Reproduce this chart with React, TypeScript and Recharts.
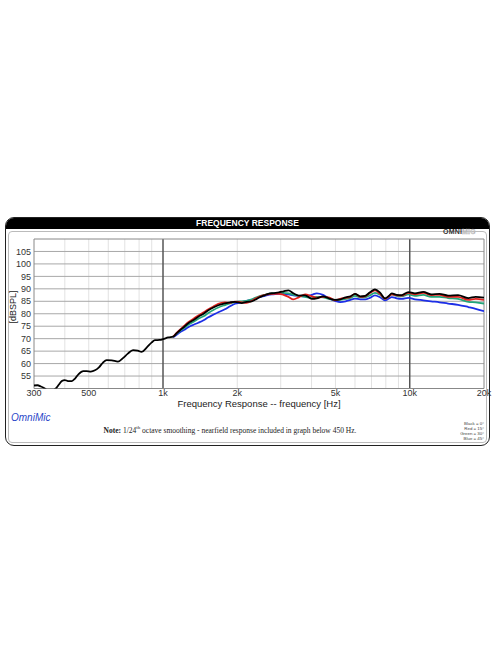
import React from 'react';
import { LineChart, Line, XAxis, YAxis, ReferenceLine } from 'recharts';

// frequency points (Hz) shared by all four traces
const freqs = [
  300, 310, 320, 332, 345, 358, 368, 378, 389, 400, 412, 427, 440, 455, 475, 490, 510, 530, 550, 570,
  591, 620, 657, 690, 720, 756, 790, 819, 860, 900, 928, 970, 1000, 1050, 1100,
  1136, 1172, 1220, 1266, 1330, 1390, 1460, 1527, 1600, 1675, 1782, 1870, 1958, 2085, 2180,
  2289, 2361, 2450, 2591, 2674, 2800, 2950, 3080, 3222, 3375, 3550, 3765, 4010, 4200, 4450,
  4700, 4980, 5230, 5500, 5750, 6000, 6300, 6600, 6900, 7230, 7580, 7940, 8200, 8460, 8850,
  9280, 9870, 10500, 11350, 12200, 13200, 14300, 15700, 17280, 18500, 20000,
];

// low end: only the black (0 deg) trace, includes nearfield
const blackLow = [
  51.2, 51.3, 50.8, 50, 48.8, 49.2, 50, 51.5, 53, 53.4, 53, 53, 54, 55.8, 57, 57, 56.8, 57.3, 58.5, 60.3,
  61.4, 61.3, 60.8, 62.3, 64, 65.4, 65.2, 64.7, 66.5, 68.5, 69.4, 69.5, 69.8, 70.5,
];

// from 1100 Hz up
const black = [
  70.8, 72.2, 73.4, 74.8, 76.2, 77.5, 78.8, 80, 81.4, 82.5, 83.4, 84.2, 84.6, 84.8, 84.3, 84.8,
  85, 85.6, 86.5, 87.5, 88, 88.3, 88.6, 89, 89.4, 88.2, 87.3, 87.4, 86, 86.2, 87,
  86.2, 85.6, 85.8, 86.6, 87, 88, 87, 87.2, 88.6, 89.8, 88.5, 86.2, 87, 88.2, 87.6,
  87.5, 88.7, 88.2, 88.8, 87.8, 88, 87.3, 87.5, 86.3, 86.8, 86.5,
];
const red = [
  70.8, 72.3, 73.6, 75.2, 76.6, 78, 79.3, 80.6, 81.8, 82.9, 84, 84.6, 84.4, 84.9, 84.6, 84.4,
  85.2, 86, 86.8, 87.6, 87.8, 88, 88, 87.6, 86.8, 85.8, 86.6, 87.8, 87, 86.4, 86.8,
  86.6, 85.4, 86, 86.4, 86.8, 88, 86.8, 87, 88.3, 89.4, 88, 86, 86.8, 87.8, 87.4,
  87.3, 88.4, 87.8, 88.4, 87.5, 87.6, 86.8, 86.8, 85.6, 86, 85.6,
];
const green = [
  70.8, 72, 73.2, 74.4, 75.6, 76.8, 78, 79, 80.3, 81.5, 82.5, 83.5, 84.2, 84.7, 85, 85.2,
  85.8, 86.4, 87, 87.6, 88, 88.2, 88.4, 88.4, 88.2, 87.6, 87.2, 86.8, 86.3, 86.8, 86.6,
  86, 85.6, 85.6, 86, 86.4, 87.2, 86.6, 86.6, 87.4, 88.4, 87.6, 86, 86.8, 87.8, 87.2,
  87, 87.8, 87.2, 87.6, 86.8, 86.8, 86.3, 86, 84.8, 84.6, 84.1,
];
const blue = [
  70.6, 71.6, 72.6, 73.6, 74.6, 75.6, 76.4, 77.4, 78.6, 79.6, 80.6, 81.8, 83, 84, 84.6, 85.2,
  85.6, 86, 86.6, 87.2, 87.6, 87.8, 88, 88, 87.8, 87.4, 87.2, 87, 87.6, 88.2, 87.6,
  86.2, 85.2, 84.7, 85, 85.6, 86.1, 85.8, 85.8, 86.4, 87.4, 86.6, 85.4, 86, 86.7, 86.2,
  86, 86.4, 85.8, 85.4, 85, 84.6, 84.1, 83.6, 82.7, 82, 81,
];

const xTicks = [300, 500, 1000, 2000, 5000, 10000, 20000];
const yTicks = [55, 60, 65, 70, 75, 80, 85, 90, 95, 100, 105];
const minorFreqs = [400, 500, 600, 700, 800, 900, 2000, 3000, 4000, 5000, 6000, 7000, 8000, 9000];
const majorFreqs = [1000, 10000];
const legendLines = ['Black = 0°', 'Red = 15°', 'Green = 30°', 'Blue = 45°'];

const nLow = blackLow.length;
const data = freqs.map((f, i) => ({
  f,
  black: i < nLow ? blackLow[i] : black[i - nLow],
  red: i < nLow ? null : red[i - nLow],
  green: i < nLow ? null : green[i - nLow],
  blue: i < nLow ? null : blue[i - nLow],
}));

const fmtHz = (v: number) => (v >= 1000 ? `${v / 1000}k` : `${v}`);
const SANS = '"Liberation Sans", Arial, sans-serif';

export default function App() {
  return (
    <div style={{ position: 'absolute', left: 0, top: 0, width: 496, height: 664, background: '#fff', fontFamily: SANS }}>
      {/* frame */}
      <div style={{ position: 'absolute', left: 5, top: 217, width: 483, height: 227, border: '1.5px solid #222', borderRadius: 9, overflow: 'hidden' }}>
        <div style={{ height: 11, background: '#000', color: '#fff', fontWeight: 'bold', fontSize: 8.5, lineHeight: '11px', textAlign: 'center' }}>
          FREQUENCY RESPONSE
        </div>
        <div style={{ position: 'absolute', left: 2, top: 13, right: 2, bottom: 2, border: '1px solid #bbb', borderRadius: 4 }} />
      </div>

      <div style={{ position: 'absolute', left: 443, top: 228, fontSize: 7, fontWeight: 'bold', letterSpacing: 0.2, lineHeight: '8px' }}>
        <span style={{ color: '#333' }}>OMNI</span>
        <span style={{ color: '#e4e4e4', WebkitTextStroke: '0.3px #999' }}>MIC</span>
      </div>

      <div style={{ position: 'absolute', left: 0, top: 230 }}>
        <LineChart width={496} height={180} data={data} margin={{ top: 9, right: 12, bottom: 1.5, left: 0 }}>
          <XAxis
            dataKey="f"
            type="number"
            scale="log"
            domain={[300, 20000]}
            ticks={xTicks}
            tickFormatter={fmtHz}
            allowDataOverflow
            axisLine={false}
            tickLine={false}
            tickSize={0}
            tickMargin={1}
            height={20}
            interval={0}
            tick={{ fontSize: 9, fill: '#333' }}
          />
          <YAxis
            type="number"
            domain={[50, 110]}
            ticks={yTicks}
            allowDataOverflow
            axisLine={false}
            tickLine={false}
            tickSize={0}
            tickMargin={3}
            width={34}
            interval={0}
            tick={{ fontSize: 9, fill: '#333' }}
          />
          {minorFreqs.map((f) => (
            <ReferenceLine key={`m${f}`} x={f} stroke="#e2e2e2" strokeWidth={1} />
          ))}
          {yTicks.map((v) => (
            <ReferenceLine key={`h${v}`} y={v} stroke="#a8a8a8" strokeWidth={1} />
          ))}
          {majorFreqs.map((f) => (
            <ReferenceLine key={`M${f}`} x={f} stroke="#555" strokeWidth={1.5} />
          ))}
          <ReferenceLine x={300} stroke="#888" />
          <ReferenceLine x={20000} stroke="#888" />
          <ReferenceLine y={50} stroke="#888" />
          <ReferenceLine y={110} stroke="#888" />
          <Line dataKey="blue" stroke="#1c2ee6" strokeWidth={1.8} dot={false} type="monotone" isAnimationActive={false} />
          <Line dataKey="green" stroke="#23a57a" strokeWidth={1.8} dot={false} type="monotone" isAnimationActive={false} />
          <Line dataKey="red" stroke="#e0201c" strokeWidth={1.8} dot={false} type="monotone" isAnimationActive={false} />
          <Line dataKey="black" stroke="#000" strokeWidth={1.8} dot={false} type="monotone" isAnimationActive={false} />
        </LineChart>
      </div>

      <div style={{ position: 'absolute', left: 6, top: 300, width: 14, height: 14, transform: 'rotate(-90deg)', whiteSpace: 'nowrap', fontSize: 9, color: '#222', display: 'flex', alignItems: 'center', justifyContent: 'center' }}>
        [dBSPL]
      </div>

      <div style={{ position: 'absolute', left: 159, width: 200, top: 398, textAlign: 'center', fontSize: 9.5, lineHeight: '11px', color: '#222' }}>
        Frequency Response -- frequency [Hz]
      </div>

      <div style={{ position: 'absolute', left: 11, top: 412, fontSize: 10, fontStyle: 'italic', color: '#2a46c8' }}>OmniMic</div>

      <div style={{ position: 'absolute', left: 60, width: 340, top: 425, textAlign: 'center', fontFamily: '"Liberation Serif", serif', fontSize: 7.5, color: '#222' }}>
        <b>Note:</b> 1/24<sup style={{ fontSize: 5 }}>th</sup> octave smoothing - nearfield response included in graph below 450 Hz.
      </div>

      <div style={{ position: 'absolute', right: 12, top: 422, textAlign: 'right', fontSize: 4.4, lineHeight: '4.9px', color: '#444' }}>
        {legendLines.map((t) => (
          <div key={t}>{t}</div>
        ))}
      </div>
    </div>
  );
}
